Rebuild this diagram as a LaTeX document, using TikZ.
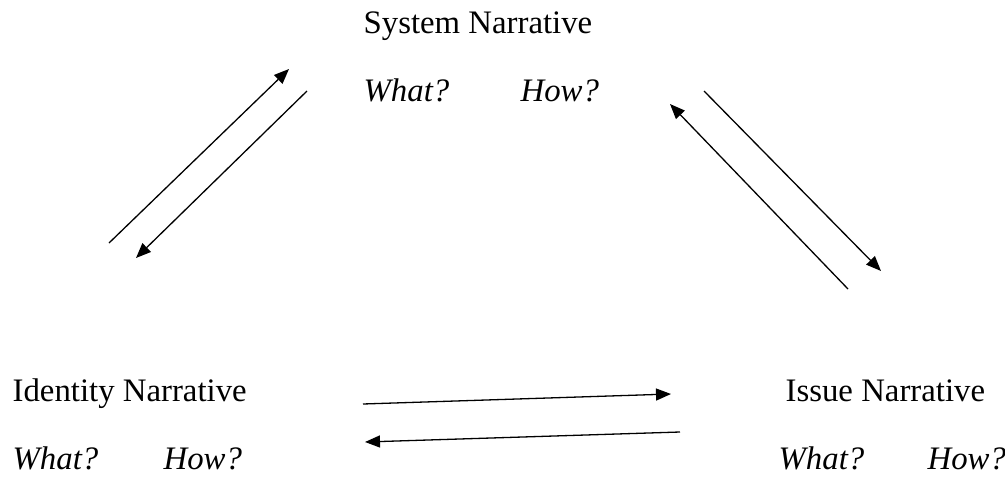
\documentclass[tikz,border=0pt]{standalone}
\usepackage{fontspec}
\setmainfont{Liberation Serif}
\usepackage{tikz}
\usepackage{xcolor}
\usetikzlibrary{arrows.meta}
\newcommand{\narfont}{\fontsize{32.8}{39}\selectfont}

\begin{document}
\begin{tikzpicture}[x=1pt, y=-1pt, line width=1.3pt,
  every node/.style={font=\narfont, anchor=base west, inner sep=0pt},
  flow/.style={-{Triangle[length=15pt,width=12pt]}}]
\useasboundingbox (0,0) rectangle (1005,477);
% System
\node (system) at (363,33) {System Narrative};
\node (systemwhat) at (363,101) {\itshape What?};
\node (systemhow) at (520,101) {\itshape How?};
% Identity
\node (identity) at (12,401) {Identity Narrative};
\node (identitywhat) at (12,469) {\itshape What?};
\node (identityhow) at (163,469) {\itshape How?};
% Issue
\node (issue) at (785,401) {Issue Narrative};
\node (issuewhat) at (778,469) {\itshape What?};
\node (issuehow) at (927,469) {\itshape How?};
% arrow ends
\coordinate (idsys1) at (109,243);
\coordinate (idsys2) at (289,69);
\coordinate (sysid1) at (307,91);
\coordinate (sysid2) at (136,258);
\coordinate (sysis1) at (704,91);
\coordinate (sysis2) at (881,271);
\coordinate (issys1) at (848,289);
\coordinate (issys2) at (670,104);
\coordinate (idis1) at (363,404);
\coordinate (idis2) at (671,394);
\coordinate (isid1) at (680,432);
\coordinate (isid2) at (365,442);
\draw[flow] (idsys1) -- (idsys2);
\draw[flow] (sysid1) -- (sysid2);
\draw[flow] (sysis1) -- (sysis2);
\draw[flow] (issys1) -- (issys2);
\draw[flow] (idis1) -- (idis2);
\draw[flow] (isid1) -- (isid2);
\end{tikzpicture}
\end{document}
